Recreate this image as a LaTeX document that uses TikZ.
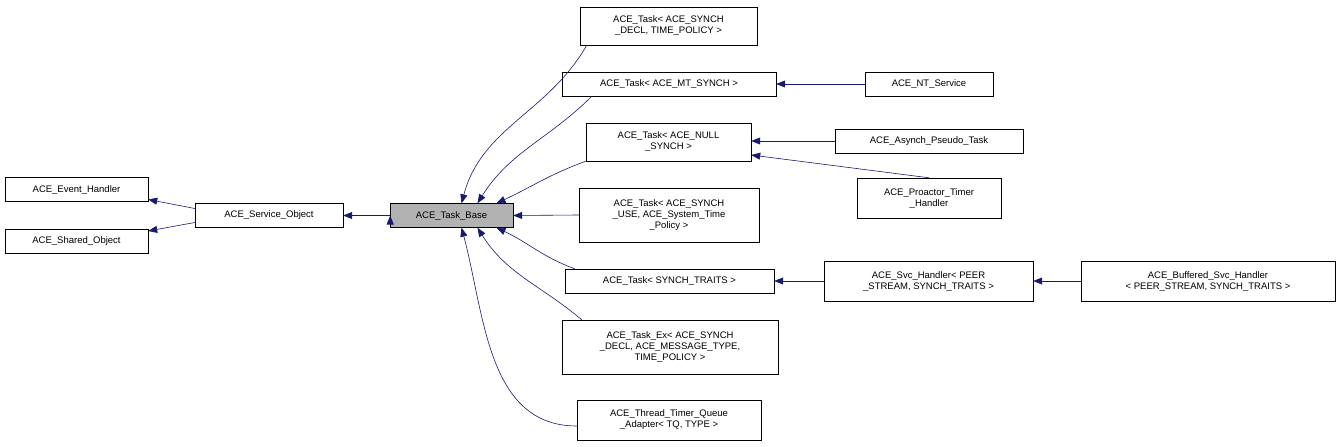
\documentclass[tikz,border=0pt]{standalone}
\usepackage{fontspec}
\setmainfont{Liberation Sans}
\usetikzlibrary{positioning, arrows.meta}
\definecolor{edgeblue}{HTML}{191970}

\begin{document}
\begin{tikzpicture}[x=1pt, y=-1pt,
  box/.style={draw, thin, fill=white, align=center, font=\fontsize{9.5}{11}\selectfont, inner sep=2pt, minimum height=24pt},
  edge/.style={draw=edgeblue, semithick, -{Triangle[length=9pt,width=7pt,fill=edgeblue]}}]

\useasboundingbox (0,0) rectangle (1341,447);

\node[box, minimum width=143pt] (eh) at (76.5,189.5) {ACE\_Event\_Handler};
\node[box, minimum width=143pt] (sh) at (76.5,241) {ACE\_Shared\_Object};
\node[box, minimum width=148pt] (so) at (269,215.5) {ACE\_Service\_Object};
\node[box, minimum width=123pt, fill=black!30] (tb) at (451.5,215.5) {ACE\_Task\_Base};

\node[box, minimum width=177pt, minimum height=38pt] (tsd) at (668.5,26) {ACE\_Task< ACE\_SYNCH\\\_DECL, TIME\_POLICY >};
\node[box, minimum width=214pt] (mt) at (669,84) {ACE\_Task< ACE\_MT\_SYNCH >};
\node[box, minimum width=128pt] (nt) at (929,84) {ACE\_NT\_Service};
\node[box, minimum width=165pt, minimum height=38pt] (null) at (668.5,142) {ACE\_Task< ACE\_NULL\\\_SYNCH >};
\node[box, minimum width=188pt] (asy) at (929,141) {ACE\_Asynch\_Pseudo\_Task};
\node[box, minimum width=144pt, minimum height=40pt] (pro) at (929,198) {ACE\_Proactor\_Timer\\\_Handler};
\node[box, minimum width=180pt, minimum height=54pt] (use) at (669,215) {ACE\_Task< ACE\_SYNCH\\\_USE, ACE\_System\_Time\\\_Policy >};
\node[box, minimum width=209pt] (trt) at (669.5,281) {ACE\_Task< SYNCH\_TRAITS >};
\node[box, minimum width=209pt, minimum height=40pt] (svc) at (928.5,281) {ACE\_Svc\_Handler< PEER\\\_STREAM, SYNCH\_TRAITS >};
\node[box, minimum width=254pt, minimum height=40pt] (buf) at (1208,281) {ACE\_Buffered\_Svc\_Handler\\< PEER\_STREAM, SYNCH\_TRAITS >};
\node[box, minimum width=216pt, minimum height=54pt] (tex) at (670,347) {ACE\_Task\_Ex< ACE\_SYNCH\\\_DECL, ACE\_MESSAGE\_TYPE,\\TIME\_POLICY >};
\node[box, minimum width=184pt, minimum height=40pt] (ttq) at (669,420) {ACE\_Thread\_Timer\_Queue\\\_Adapter< TQ, TYPE >};

% inheritance edges
\draw[edge] ([yshift=7pt]so.west) -- ([yshift=-10pt]eh.east);
\draw[edge] ([yshift=-7pt]so.west) -- ([yshift=10pt]sh.east);
\draw[edge] (so.east) ++(47pt,0) coordinate (tbw); 
\draw[edge] (tb.west) -- (so.east);

\draw[edge] ([xshift=7pt]tsd.south west) to[out=240,in=75] ([xshift=10pt]tb.north);
\draw[edge] ([xshift=30pt]mt.south west) to[out=225,in=58] ([xshift=26pt]tb.north);
\draw[edge] (null.south west) to[out=200,in=25] ([xshift=45pt]tb.north);
\draw[edge] (use.west) -- (tb.east);
\draw[edge] ([xshift=10pt]trt.north west) to[out=160,in=-25] ([xshift=45pt]tb.south);
\draw[edge] ([xshift=20pt]tex.north west) to[out=140,in=-58] ([xshift=26pt]tb.south);
\draw[edge] ([yshift=-6pt]ttq.west) to[out=180,in=-75] ([xshift=10pt]tb.south);

\draw[edge] (nt.west) -- (mt.east);
\draw[edge] (asy.west) -- ([yshift=1pt]null.east);
\draw[edge] (pro.north) -- ([yshift=-13pt]null.east);
\draw[edge] (svc.west) -- (trt.east);
\draw[edge] (buf.west) -- (svc.east);
\end{tikzpicture}
\end{document}
